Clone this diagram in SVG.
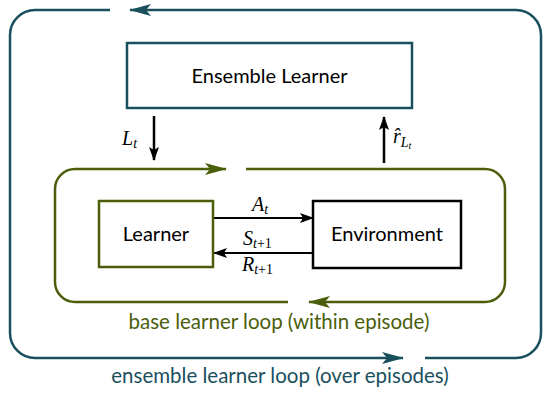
<svg xmlns="http://www.w3.org/2000/svg" width="543" height="396" viewBox="0 0 543 396">
<style>
.teal{stroke:#1a4f5e;fill:none;stroke-width:2.5}
.olive{stroke:#4b5e0b;fill:none;stroke-width:2.5}
.blk{stroke:#000;fill:none;stroke-width:2}
.lbl{font-family:Lato,"Open Sans",sans-serif;font-size:20px;text-anchor:middle}
.cap{font-size:20.5px}
.math{font-family:"Liberation Serif","DejaVu Serif",serif;font-style:italic;font-size:20px}
.sub{font-size:14px}
</style>
<defs>
<marker id="ab" markerWidth="14" markerHeight="10" refX="13" refY="5" orient="auto" markerUnits="userSpaceOnUse"><path d="M0,0 L14,5 L0,10 L3,5 Z" fill="#000"/></marker>
<marker id="at" markerWidth="22" markerHeight="12" refX="21" refY="6" orient="auto" markerUnits="userSpaceOnUse"><path d="M0,0 L22,6 L0,12 L5,6 Z" fill="#1a4f5e"/></marker>
<marker id="ao" markerWidth="22" markerHeight="12" refX="21" refY="6" orient="auto" markerUnits="userSpaceOnUse"><path d="M0,0 L22,6 L0,12 L5,6 Z" fill="#4b5e0b"/></marker>
</defs>
<g id="connectors">
<path class="teal" d="M110,10 H35 A25,25 0 0 0 10,35 V333 A25,25 0 0 0 35,358 H403" marker-end="url(#at)"/>
<path class="teal" d="M425,358 H516 A25,25 0 0 0 541,333 V35 A25,25 0 0 0 516,10 H130" marker-end="url(#at)"/>
<path class="olive" d="M288,302 H75 A20,20 0 0 1 55,282 V189 A20,20 0 0 1 75,169 H226" marker-end="url(#ao)"/>
<path class="olive" d="M246,169 H485 A20,20 0 0 1 505,189 V282 A20,20 0 0 1 485,302 H309" marker-end="url(#ao)"/>
<line class="blk" style="stroke-width:2.5" x1="154" y1="116" x2="154" y2="160" marker-end="url(#ab)"/>
<line class="blk" style="stroke-width:2.5" x1="384" y1="163" x2="384" y2="117" marker-end="url(#ab)"/>
<line class="blk" x1="214" y1="218" x2="313" y2="218" marker-end="url(#ab)"/>
<line class="blk" x1="313" y1="253" x2="214" y2="253" marker-end="url(#ab)"/>
<text class="math" x="122" y="145">L<tspan class="sub" dy="3">t</tspan></text>
<text class="math" x="393" y="143">r̂<tspan class="sub" dy="4">L</tspan><tspan style="font-size:10px" dy="2">t</tspan></text>
<text class="math" x="252" y="211">A<tspan class="sub" dy="3">t</tspan></text>
<text class="math" x="243" y="245">S<tspan class="sub" style="font-style:normal" dy="3"><tspan style="font-style:italic">t</tspan>+1</tspan></text>
<text class="math" x="242" y="271">R<tspan class="sub" style="font-style:normal" dy="3"><tspan style="font-style:italic">t</tspan>+1</tspan></text>
</g>
<g id="ensemble">
<rect x="127" y="43" width="285" height="65" fill="#fff" stroke="#1a4f5e" stroke-width="2.5"/>
<text class="lbl" x="269.5" y="83">Ensemble Learner</text>
</g>
<g id="learner">
<rect x="99" y="201" width="114" height="66" fill="#fff" stroke="#4b5e0b" stroke-width="2.5"/>
<text class="lbl" x="156" y="241">Learner</text>
</g>
<g id="environment">
<rect x="313" y="201" width="148" height="67" fill="#fff" stroke="#000" stroke-width="2.5"/>
<text class="lbl" x="387" y="241">Environment</text>
</g>
<g id="captions">
<text class="lbl cap" x="279" y="329" fill="#4b5e0b">base learner loop (within episode)</text>
<text class="lbl cap" x="280" y="383" fill="#1a4f5e">ensemble learner loop (over episodes)</text>
</g>
</svg>
